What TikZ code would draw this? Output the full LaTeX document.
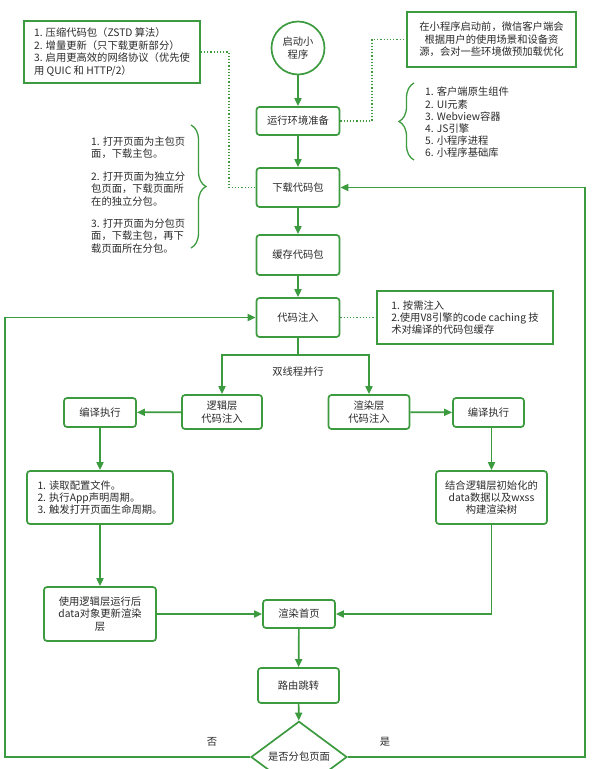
\documentclass[tikz,border=0pt]{standalone}
\usepackage{fontspec}
\setmainfont{Noto Sans CJK SC}
\usepackage{tikz}
\usetikzlibrary{
  arrows.meta,
  positioning,
  decorations.pathreplacing,
  shapes.geometric
}
\definecolor{grn}{HTML}{3C9A3F}
\definecolor{txt}{HTML}{2B2B2B}

\begin{document}
\begin{tikzpicture}[
  x=1pt, y=-1pt,
  every node/.style={font=\fontsize{10.3}{12.4}\selectfont, text=txt},
  proc/.style={draw=grn, line width=1.7pt, rounded corners=3pt, fill=white,
               align=center, inner sep=2pt, minimum width=83pt, minimum height=39pt},
  note/.style={draw=grn, line width=1.7pt, fill=white, inner sep=0pt},
  decide/.style={diamond, draw=grn, line width=1.7pt, fill=white, inner sep=0pt,
                 minimum width=96pt, minimum height=62pt},
  arrow/.style={-{Triangle[length=8pt, width=7pt]}, grn, line width=1.7pt},
  link/.style={grn, line width=1.7pt},
  dotlink/.style={grn, dotted, line width=1.2pt},
  bracegrn/.style={grn, line width=1.3pt, decorate,
                   decoration={brace, amplitude=15pt}},
  lbl/.style={inner sep=0pt},
]
  \path[use as bounding box, clip] (0,0) rectangle (597,769);

  % main column
  \node[circle, draw=grn, line width=1.7pt, align=center, inner sep=0pt,
        minimum size=53pt] (start) at (298,48) {启动小\\程序};
  \node[proc, minimum height=28pt] (env)    at (298,121)   {运行环境准备};
  \node[proc]                      (dl)     at (298,187.5) {下载代码包};
  \node[proc, minimum height=40pt] (cache)  at (298,255)   {缓存代码包};
  \node[proc]                      (inject) at (298,317.5) {代码注入};

  \draw[arrow] (start) -- (env);
  \draw[arrow] (env) -- (dl);
  \draw[arrow] (dl) -- (cache);
  \draw[arrow] (cache) -- (inject);

  % notes on the top
  \node[note, minimum width=176pt, minimum height=62pt, align=left] (noteTL) at (112,52)
    {1. 压缩代码包（ZSTD 算法）\\2. 增量更新（只下载更新部分）\\3. 启用更高效的网络协议（优先使\\用 QUIC 和 HTTP/2）};
  \node[note, minimum width=169pt, minimum height=55pt, align=center] (noteTR) at (491.5,39.5)
    {在小程序启动前，微信客户端会\\根据用户的使用场景和设备资\\源，会对一些环境做预加载优化};
  \node[note, minimum width=176pt, minimum height=53pt, align=left] (noteInj) at (465,317.5)
    {1. 按需注入\\2.使用V8引擎的code caching 技\\术对编译的代码包缓存};

  \coordinate (dotL) at (229,120);
  \coordinate (dotR) at (372,80);
  \draw[dotlink] (noteTL.east) -| (dotL) |- (dl.west);
  \draw[dotlink] (env.east) -| (dotR) |- (noteTR.west);
  \draw[dotlink] (inject.east) -- (noteInj.west);

  % braces
  \coordinate (bLtop) at (191,125);
  \coordinate (bLbot) at (191,248);
  \draw[bracegrn] (bLtop) -- (bLbot);
  \node[lbl, anchor=west, align=left] (pkgText) at (91,195)
    {1. 打开页面为主包页\\面，下载主包。\\[10pt]2. 打开页面为独立分\\包页面，下载页面所\\在的独立分包。\\[10pt]3. 打开页面为分包页\\面，下载主包，再下\\载页面所在分包。};

  \coordinate (bRbot) at (414,160);
  \coordinate (bRtop) at (414,83);
  \draw[bracegrn] (bRbot) -- (bRtop);
  \node[lbl, anchor=west, align=left, font=\fontsize{10.3}{12.2}\selectfont] (envText) at (425,122.5)
    {1. 客户端原生组件\\2. UI元素\\3. Webview容器\\4. JS引擎\\5. 小程序进程\\6. 小程序基础库};

  % two threads
  \coordinate (split) at (298,355);
  \node[proc, minimum width=80pt, minimum height=34pt] (logic)  at (222,412) {逻辑层\\代码注入};
  \node[proc, minimum width=81pt, minimum height=34pt] (render) at (369,412) {渲染层\\代码注入};
  \node[lbl] (twoThr) at (298,372) {双线程并行};
  \draw[link] (inject) -- (split);
  \draw[arrow] (split) -| (logic);
  \draw[arrow] (split) -| (render);

  \node[proc, minimum width=72pt, minimum height=29pt] (compL) at (100,412.5) {编译执行};
  \node[proc, minimum width=71pt, minimum height=29pt] (compR) at (488.5,412.5) {编译执行};
  \draw[arrow] (logic) -- (compL);
  \draw[arrow] (render) -- (compR);

  \node[proc, minimum width=146pt, minimum height=53pt, align=left] (readCfg) at (100,497.5)
    {1. 读取配置文件。\\2. 执行App声明周期。\\3. 触发打开页面生命周期。};
  \node[proc, minimum width=111pt, minimum height=53pt] (combine) at (491.5,497.5)
    {结合逻辑层初始化的\\data数据以及wxss\\构建渲染树};
  \draw[arrow] (compL) -- (readCfg);
  \draw[arrow] (compR.south -| combine.north) -- (combine);

  \node[proc, minimum width=112pt, minimum height=54pt] (update) at (100,614)
    {使用逻辑层运行后\\data对象更新渲染\\层};
  \node[proc, minimum width=72pt, minimum height=28pt] (home) at (299,614) {渲染首页};
  \draw[arrow] (readCfg) -- (update);
  \draw[arrow] (update) -- (home);
  \draw[arrow] (combine) |- (home);

  \node[proc, minimum width=81pt, minimum height=35pt] (route) at (298.5,685.5) {路由跳转};
  \node[decide] (isSub) at (299,757) {是否分包页面};
  \draw[arrow] (home) -- (route);
  \draw[arrow] (route) -- (isSub);

  % back loops
  \coordinate (loopL) at (5,757);
  \coordinate (loopR) at (585,757);
  \draw[arrow] (isSub.west) -- (loopL) |- (inject.west);
  \draw[arrow] (isSub.east) -- (loopR) |- (dl.east);
  \node[lbl] (noLbl)  at (212,742) {否};
  \node[lbl] (yesLbl) at (385,742) {是};
\end{tikzpicture}
\end{document}
